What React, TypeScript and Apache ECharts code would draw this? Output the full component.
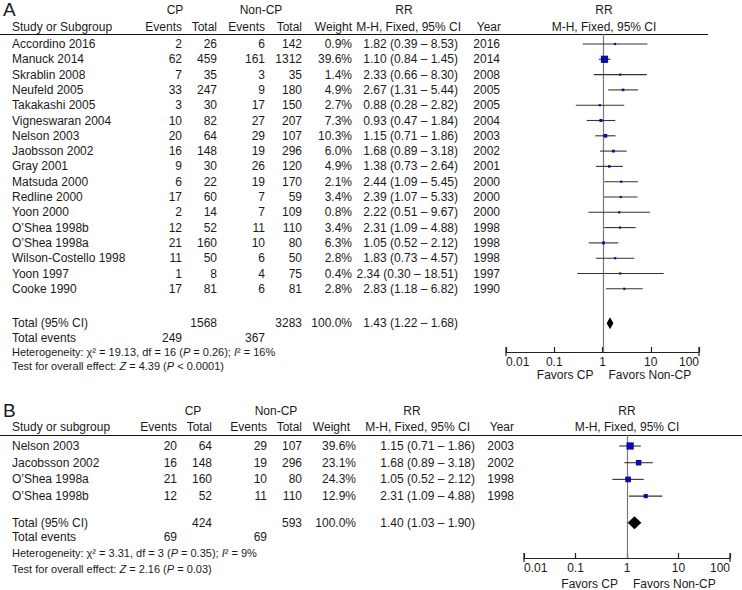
import React, { useEffect, useRef } from "react";
import * as echarts from "echarts";

// ---------- Panel A data ----------
const studiesA = ["Accordino 2016", "Manuck 2014", "Skrablin 2008", "Neufeld 2005", "Takakashi 2005", "Vigneswaran 2004", "Nelson 2003", "Jaobsson 2002", "Gray 2001", "Matsuda 2000", "Redline 2000", "Yoon 2000", "O’Shea 1998b", "O’Shea 1998a", "Wilson-Costello 1998", "Yoon 1997", "Cooke 1990"];
const cpEventsA = [2, 62, 7, 33, 3, 10, 20, 16, 9, 6, 17, 2, 12, 21, 11, 1, 17];
const cpTotalA = [26, 459, 35, 247, 30, 82, 64, 148, 30, 22, 60, 14, 52, 160, 50, 8, 81];
const nonEventsA = [6, 161, 3, 9, 17, 27, 29, 19, 26, 19, 7, 7, 11, 10, 6, 4, 6];
const nonTotalA = [142, 1312, 35, 180, 150, 207, 107, 296, 120, 170, 59, 109, 110, 80, 50, 75, 81];
const weightA = [0.9, 39.6, 1.4, 4.9, 2.7, 7.3, 10.3, 6.0, 4.9, 2.1, 3.4, 0.8, 3.4, 6.3, 2.8, 0.4, 2.8];
const rrA = [1.82, 1.10, 2.33, 2.67, 0.88, 0.93, 1.15, 1.68, 1.38, 2.44, 2.39, 2.22, 2.31, 1.05, 1.83, 2.34, 2.83];
const loA = [0.39, 0.84, 0.66, 1.31, 0.28, 0.47, 0.71, 0.89, 0.73, 1.09, 1.07, 0.51, 1.09, 0.52, 0.73, 0.30, 1.18];
const hiA = [8.53, 1.45, 8.30, 5.44, 2.82, 1.84, 1.86, 3.18, 2.64, 5.45, 5.33, 9.67, 4.88, 2.12, 4.57, 18.51, 6.82];
const yearA = [2016, 2014, 2008, 2005, 2005, 2004, 2003, 2002, 2001, 2000, 2000, 2000, 1998, 1998, 1998, 1997, 1990];
const totalA = { cpTotal: 1568, nonTotal: 3283, weight: 100.0, rr: 1.43, lo: 1.22, hi: 1.68, cpEvents: 249, nonEvents: 367 };
const hetA = { chi2: "19.13", df: "16", p: "0.26", i2: "16%", z: "4.39", pz: "< 0.0001" };

// ---------- Panel B data ----------
const studiesB = ["Nelson 2003", "Jacobsson 2002", "O’Shea 1998a", "O’Shea 1998b"];
const cpEventsB = [20, 16, 21, 12];
const cpTotalB = [64, 148, 160, 52];
const nonEventsB = [29, 19, 10, 11];
const nonTotalB = [107, 296, 80, 110];
const weightB = [39.6, 23.1, 24.3, 12.9];
const rrB = [1.15, 1.68, 1.05, 2.31];
const loB = [0.71, 0.89, 0.52, 1.09];
const hiB = [1.86, 3.18, 2.12, 4.88];
const yearB = [2003, 2002, 1998, 1998];
const totalB = { cpTotal: 424, nonTotal: 593, weight: 100.0, rr: 1.40, lo: 1.03, hi: 1.90, cpEvents: 69, nonEvents: 69 };
const hetB = { chi2: "3.31", df: "3", p: "0.35", i2: "9%", z: "2.16", pz: "= 0.03" };

// ---------- axis ----------
const tickLabels = ["0.01", "0.1", "1", "10", "100"];
const axisMin = 0.01;
const axisMax = 100;

const FONT = "'Liberation Sans', Arial, Helvetica, sans-serif";
const TXT = "#1a1a1a";
const BOX = "#0a0aa8";

type Layout = {
  y0: number; step: number; top: number; axisY: number; left: number; right: number;
  totalIdx: number; diamondH: number; ruleY: number; ruleEnd: number;
  letterY: number; head1Y: number; head2Y: number;
  cols: { ev: number; tot: number; nev: number; ntot: number; w: number; rr: number; yr: number; hw: number; hrr: number; hyr: number };
  cpX: number; ncpX: number; rrX: number; rr2X: number; evY: number; hetY: number; testY: number; favY: number;
  subgroup: string; letter: string; footSize: number;
};

const LA: Layout = {
  y0: 44, step: 15.3, top: 34, axisY: 352, left: 506, right: 699, totalIdx: 18.25, diamondH: 12,
  ruleY: 34, ruleEnd: 708, letterY: 9, head1Y: 10, head2Y: 27,
  cols: { ev: 182, tot: 217, nev: 265, ntot: 302, w: 352, rr: 458, yr: 500, hw: 352, hrr: 461, hyr: 501 },
  cpX: 175, ncpX: 261, rrX: 404, rr2X: 604, evY: 338, hetY: 352, testY: 366, favY: 375,
  subgroup: "Study or Subgroup", letter: "A", footSize: 11,
};
const LB: Layout = {
  y0: 446, step: 16.7, top: 435, axisY: 558, left: 524, right: 730, totalIdx: 4.6, diamondH: 13,
  ruleY: 435, ruleEnd: 742, letterY: 410, head1Y: 411, head2Y: 427,
  cols: { ev: 177, tot: 212, nev: 267, ntot: 302, w: 356, rr: 475, yr: 514, hw: 350, hrr: 470, hyr: 514 },
  cpX: 193, ncpX: 276, rrX: 412, rr2X: 627, evY: 537, hetY: 553, testY: 569, favY: 584,
  subgroup: "Study or subgroup", letter: "B", footSize: 11,
};

function txt(x: number, y: number, text: string, align: string = "left", size = 12, extra: any = {}) {
  return {
    type: "text", x, y, silent: true,
    style: {
      text, fontSize: size, fontFamily: FONT, fill: TXT,
      align, textAlign: align, verticalAlign: "middle", textVerticalAlign: "middle", ...extra,
    },
  };
}

const fmtCI = (r: number, l: number, h: number) => `${r.toFixed(2)} (${l.toFixed(2)} – ${h.toFixed(2)})`;

function panelTexts(L: Layout, d: any) {
  const els: any[] = [];
  const rowY = (i: number) => L.y0 + L.step * i;
  const c = L.cols;
  els.push(txt(3, L.letterY, L.letter, "left", 19));
  els.push(txt(L.cpX, L.head1Y, "CP", "center"));
  els.push(txt(L.ncpX, L.head1Y, "Non-CP", "center"));
  els.push(txt(L.rrX, L.head1Y, "RR", "center"));
  els.push(txt(L.rr2X, L.head1Y, "RR", "center"));
  els.push(txt(12, L.head2Y, L.subgroup));
  els.push(txt(c.ev, L.head2Y, "Events", "right"));
  els.push(txt(c.tot, L.head2Y, "Total", "right"));
  els.push(txt(c.nev, L.head2Y, "Events", "right"));
  els.push(txt(c.ntot, L.head2Y, "Total", "right"));
  els.push(txt(c.hw, L.head2Y, "Weight", "right"));
  els.push(txt(c.hrr, L.head2Y, "M-H, Fixed, 95% CI", "right"));
  els.push(txt(c.hyr, L.head2Y, "Year", "right"));
  els.push(txt(L.rr2X, L.head2Y, "M-H, Fixed, 95% CI", "center"));
  els.push({ type: "line", silent: true, shape: { x1: 0, y1: L.ruleY + 0.5, x2: L.ruleEnd, y2: L.ruleY + 0.5 }, style: { stroke: "#111", lineWidth: 1.2 } });
  d.studies.forEach((s: string, i: number) => {
    const y = rowY(i);
    els.push(txt(12, y, s));
    els.push(txt(c.ev, y, String(d.cpEvents[i]), "right"));
    els.push(txt(c.tot, y, String(d.cpTotal[i]), "right"));
    els.push(txt(c.nev, y, String(d.nonEvents[i]), "right"));
    els.push(txt(c.ntot, y, String(d.nonTotal[i]), "right"));
    els.push(txt(c.w, y, `${d.weight[i].toFixed(1)}%`, "right"));
    els.push(txt(c.rr, y, fmtCI(d.rr[i], d.lo[i], d.hi[i]), "right"));
    els.push(txt(c.yr, y, String(d.year[i]), "right"));
  });
  const ty = rowY(L.totalIdx);
  const t = d.total;
  els.push(txt(12, ty, "Total (95% CI)"));
  els.push(txt(c.tot, ty, String(t.cpTotal), "right"));
  els.push(txt(c.ntot, ty, String(t.nonTotal), "right"));
  els.push(txt(c.w, ty, `${t.weight.toFixed(1)}%`, "right"));
  els.push(txt(c.rr, ty, fmtCI(t.rr, t.lo, t.hi), "right"));
  els.push(txt(12, L.evY, "Total events"));
  els.push(txt(c.ev, L.evY, String(t.cpEvents), "right"));
  els.push(txt(c.nev, L.evY, String(t.nonEvents), "right"));
  const fs = L.footSize;
  const rich = { rich: { i: { fontStyle: "italic", fontSize: fs, fontFamily: FONT, fill: TXT } } };
  const h = d.het;
  els.push(txt(12, L.hetY, `Heterogeneity: χ² = ${h.chi2}, df = ${h.df} ({i|P} = ${h.p}); {i|I}² = ${h.i2}`, "left", fs, rich));
  els.push(txt(12, L.testY, `Test for overall effect: {i|Z} = ${h.z} ({i|P} ${h.pz})`, "left", fs, rich));
  const refX = L.left + (L.right - L.left) * (Math.log10(1) - Math.log10(axisMin)) / (Math.log10(axisMax) - Math.log10(axisMin));
  els.push(txt(refX - 9, L.favY, "Favors CP", "right"));
  els.push(txt(refX + 6, L.favY, "Favors Non-CP", "left"));
  return els;
}

function panelSeries(L: Layout, d: any, idx: number) {
  const yMin = (L.top - L.y0) / L.step;
  const yMax = (L.axisY - L.y0) / L.step;
  const rows = d.studies.map((_: string, i: number) => [d.rr[i], d.lo[i], d.hi[i], i, d.weight[i]]);
  return [
    {
      // reference line at RR = 1
      type: "custom", xAxisIndex: idx, yAxisIndex: idx, z: 1, silent: true,
      data: [[1, yMin, yMax]],
      encode: { x: 0, y: [1, 2] },
      renderItem: (_p: any, api: any) => {
        const a = api.coord([api.value(0), api.value(1)]);
        const b = api.coord([api.value(0), api.value(2)]);
        return { type: "line", shape: { x1: Math.round(a[0]) + 0.5, y1: a[1], x2: Math.round(a[0]) + 0.5, y2: b[1] }, style: { stroke: "#7a7a7a", lineWidth: 1.2 } };
      },
    },
    {
      // end caps of the axis (extend below the axis line)
      type: "custom", xAxisIndex: idx, yAxisIndex: idx, z: 2, silent: true,
      data: [[axisMin, yMax], [axisMax, yMax]],
      encode: { x: 0, y: 1 },
      renderItem: (_p: any, api: any) => {
        const p = api.coord([api.value(0), api.value(1)]);
        return { type: "line", shape: { x1: p[0], y1: p[1] - 5, x2: p[0], y2: p[1] + 4 }, style: { stroke: "#222", lineWidth: 1.2 } };
      },
    },
    {
      type: "custom", xAxisIndex: idx, yAxisIndex: idx, z: 3, silent: true,
      data: rows,
      encode: { x: [0, 1, 2], y: 3 },
      renderItem: (_p: any, api: any) => {
        const r = api.value(0), lo = api.value(1), hi = api.value(2), row = api.value(3), w = api.value(4);
        const pl = api.coord([lo, row]);
        const ph = api.coord([hi, row]);
        const pc = api.coord([r, row]);
        const s = Math.max(2.2, 1.15 * Math.sqrt(w));
        return {
          type: "group",
          children: [
            { type: "line", shape: { x1: pl[0], y1: pl[1], x2: ph[0], y2: ph[1] }, style: { stroke: "#333", lineWidth: 1.1 } },
            { type: "rect", shape: { x: pc[0] - s / 2, y: pc[1] - s / 2, width: s, height: s }, style: { fill: BOX } },
          ],
        };
      },
    },
    {
      type: "custom", xAxisIndex: idx, yAxisIndex: idx, z: 4, silent: true,
      data: [[d.total.rr, d.total.lo, d.total.hi, L.totalIdx]],
      encode: { x: [0, 1, 2], y: 3 },
      renderItem: (_p: any, api: any) => {
        const row = api.value(3);
        const pl = api.coord([api.value(1), row]);
        const ph = api.coord([api.value(2), row]);
        const pc = api.coord([api.value(0), row]);
        const hh = L.diamondH / 2;
        return {
          type: "polygon",
          shape: { points: [[pl[0], pl[1]], [pc[0], pc[1] - hh], [ph[0], ph[1]], [pc[0], pc[1] + hh]] },
          style: { fill: "#000" },
        };
      },
    },
  ];
}

function axisX(L: Layout, idx: number) {
  return {
    gridIndex: idx, type: "log", logBase: 10, min: axisMin, max: axisMax,
    axisLine: { show: true, onZero: false, lineStyle: { color: "#222", width: 1.2 } },
    axisTick: { show: true, inside: true, length: 5, lineStyle: { color: "#222", width: 1.2 } },
    splitLine: { show: false },
    minorTick: { show: false },
    axisLabel: {
      show: true, margin: 4, fontSize: 12, fontFamily: FONT, color: TXT,
      alignMinLabel: "left", alignMaxLabel: "right",
      formatter: (v: number) => tickLabels[Math.round(Math.log10(v)) + 2] ?? "",
    },
  };
}

function axisY(L: Layout, idx: number) {
  return {
    gridIndex: idx, type: "value", inverse: true, show: false,
    min: (L.top - L.y0) / L.step, max: (L.axisY - L.y0) / L.step,
    splitLine: { show: false },
  };
}

const dataA = { studies: studiesA, cpEvents: cpEventsA, cpTotal: cpTotalA, nonEvents: nonEventsA, nonTotal: nonTotalA, weight: weightA, rr: rrA, lo: loA, hi: hiA, year: yearA, total: totalA, het: hetA };
const dataB = { studies: studiesB, cpEvents: cpEventsB, cpTotal: cpTotalB, nonEvents: nonEventsB, nonTotal: nonTotalB, weight: weightB, rr: rrB, lo: loB, hi: hiB, year: yearB, total: totalB, het: hetB };

function buildOption() {
  return {
    animation: false,
    backgroundColor: "#ffffff",
    textStyle: { fontFamily: FONT },
    grid: [LA, LB].map((L) => ({
      left: L.left, top: L.top, width: L.right - L.left, height: L.axisY - L.top,
      containLabel: false, outerBoundsMode: "none",
    })),
    xAxis: [axisX(LA, 0), axisX(LB, 1)],
    yAxis: [axisY(LA, 0), axisY(LB, 1)],
    series: [...panelSeries(LA, dataA, 0), ...panelSeries(LB, dataB, 1)],
    graphic: { elements: [...panelTexts(LA, dataA), ...panelTexts(LB, dataB)] },
  };
}

export default function App() {
  const ref = useRef<HTMLDivElement>(null);
  useEffect(() => {
    document.body.style.margin = "0";
    const chart = echarts.init(ref.current!, undefined, { renderer: "svg" });
    chart.setOption(buildOption() as any);
    return () => chart.dispose();
  }, []);
  return <div ref={ref} style={{ width: 742, height: 590, background: "#fff" }} />;
}
